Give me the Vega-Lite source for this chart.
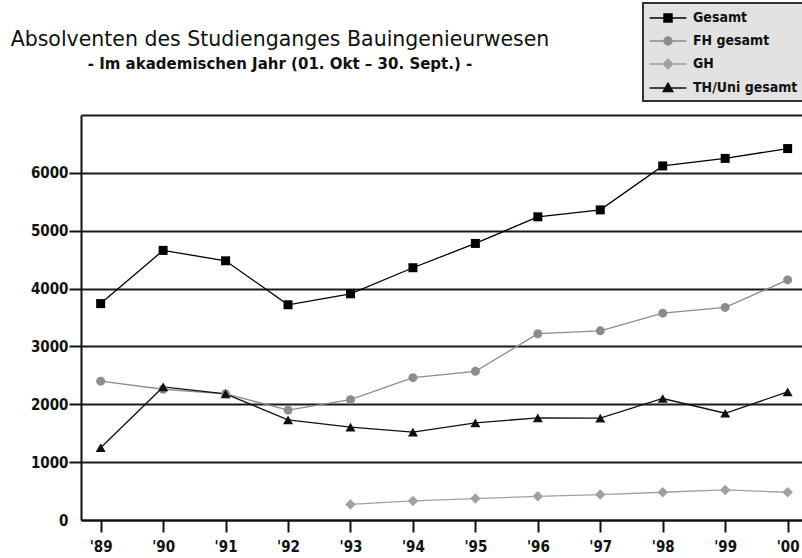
{
  "$schema": "https://vega.github.io/schema/vega-lite/v6.json",
  "width": 721,
  "height": 405,
  "autosize": {"type": "none"},
  "padding": {"left": 81, "top": 115, "right": 0, "bottom": 38},
  "background": "white",
  "title": {
    "text": "Absolventen des Studienganges Bauingenieurwesen",
    "subtitle": "- Im akademischen Jahr (01. Okt – 30. Sept.) -",
    "anchor": "start",
    "frame": "group",
    "align": "center",
    "dx": 199,
    "dy": 70,
    "offset": 0,
    "font": "DejaVu Sans",
    "fontSize": 20.5,
    "fontWeight": "normal",
    "color": "#111",
    "subtitleFont": "DejaVu Sans",
    "subtitleFontSize": 15,
    "subtitleFontWeight": "bold",
    "subtitleColor": "#111",
    "subtitlePadding": 7
  },
  "config": {
    "view": {"stroke": null},
    "axis": {
      "labelFont": "DejaVu Sans Condensed, Liberation Sans Narrow, DejaVu Sans",
      "labelFontWeight": "bold",
      "labelColor": "#111",
      "domainColor": "#111",
      "domainWidth": 2,
      "tickColor": "#111",
      "tickWidth": 2,
      "tickSize": 12,
      "title": null
    },
    "legend": {
      "labelFont": "DejaVu Sans Condensed, Liberation Sans Narrow, DejaVu Sans",
      "labelFontWeight": "bold",
      "strokeWidth": 2
    }
  },
  "data": {
    "values": [
      {"jahr": 1989, "serie": "Gesamt", "wert": 3740},
      {"jahr": 1990, "serie": "Gesamt", "wert": 4660},
      {"jahr": 1991, "serie": "Gesamt", "wert": 4480},
      {"jahr": 1992, "serie": "Gesamt", "wert": 3720},
      {"jahr": 1993, "serie": "Gesamt", "wert": 3910},
      {"jahr": 1994, "serie": "Gesamt", "wert": 4360},
      {"jahr": 1995, "serie": "Gesamt", "wert": 4780},
      {"jahr": 1996, "serie": "Gesamt", "wert": 5240},
      {"jahr": 1997, "serie": "Gesamt", "wert": 5360},
      {"jahr": 1998, "serie": "Gesamt", "wert": 6120},
      {"jahr": 1999, "serie": "Gesamt", "wert": 6250},
      {"jahr": 2000, "serie": "Gesamt", "wert": 6420},
      {"jahr": 1989, "serie": "FH gesamt", "wert": 2400},
      {"jahr": 1990, "serie": "FH gesamt", "wert": 2260},
      {"jahr": 1991, "serie": "FH gesamt", "wert": 2180},
      {"jahr": 1992, "serie": "FH gesamt", "wert": 1900},
      {"jahr": 1993, "serie": "FH gesamt", "wert": 2080},
      {"jahr": 1994, "serie": "FH gesamt", "wert": 2460},
      {"jahr": 1995, "serie": "FH gesamt", "wert": 2570},
      {"jahr": 1996, "serie": "FH gesamt", "wert": 3220},
      {"jahr": 1997, "serie": "FH gesamt", "wert": 3270},
      {"jahr": 1998, "serie": "FH gesamt", "wert": 3575},
      {"jahr": 1999, "serie": "FH gesamt", "wert": 3675},
      {"jahr": 2000, "serie": "FH gesamt", "wert": 4150},
      {"jahr": 1993, "serie": "GH", "wert": 270},
      {"jahr": 1994, "serie": "GH", "wert": 330},
      {"jahr": 1995, "serie": "GH", "wert": 370},
      {"jahr": 1996, "serie": "GH", "wert": 410},
      {"jahr": 1997, "serie": "GH", "wert": 440},
      {"jahr": 1998, "serie": "GH", "wert": 480},
      {"jahr": 1999, "serie": "GH", "wert": 520},
      {"jahr": 2000, "serie": "GH", "wert": 480},
      {"jahr": 1989, "serie": "TH/Uni gesamt", "wert": 1250},
      {"jahr": 1990, "serie": "TH/Uni gesamt", "wert": 2300},
      {"jahr": 1991, "serie": "TH/Uni gesamt", "wert": 2180},
      {"jahr": 1992, "serie": "TH/Uni gesamt", "wert": 1730},
      {"jahr": 1993, "serie": "TH/Uni gesamt", "wert": 1605},
      {"jahr": 1994, "serie": "TH/Uni gesamt", "wert": 1520},
      {"jahr": 1995, "serie": "TH/Uni gesamt", "wert": 1680},
      {"jahr": 1996, "serie": "TH/Uni gesamt", "wert": 1765},
      {"jahr": 1997, "serie": "TH/Uni gesamt", "wert": 1760},
      {"jahr": 1998, "serie": "TH/Uni gesamt", "wert": 2100},
      {"jahr": 1999, "serie": "TH/Uni gesamt", "wert": 1845},
      {"jahr": 2000, "serie": "TH/Uni gesamt", "wert": 2215}
    ]
  },
  "encoding": {
    "x": {
      "field": "jahr",
      "type": "quantitative",
      "scale": {"domain": [1988.685, 2000.23], "nice": false, "zero": false},
      "axis": {
        "values": [1989, 1990, 1991, 1992, 1993, 1994, 1995, 1996, 1997, 1998, 1999, 2000],
        "labelExpr": "\"'\" + substring(toString(datum.value), 2, 4)",
        "labelFontSize": 15,
        "labelPadding": 7,
        "grid": false,
        "labelFlush": false,
        "labelOverlap": false
      }
    },
    "y": {
      "field": "wert",
      "type": "quantitative",
      "scale": {"domain": [0, 7000], "nice": false},
      "axis": {
        "values": [0, 1000, 2000, 3000, 4000, 5000, 6000, 7000],
        "labelExpr": "datum.value == 7000 ? '' : toString(datum.value)",
        "labelFontSize": 15,
        "labelPadding": 1,
        "tickOpacity": {"condition": {"test": "datum.value == 7000 || datum.value == 0", "value": 0}, "value": 1},
        "grid": true,
        "gridColor": "#1a1a1a",
        "gridWidth": 2,
        "gridOpacity": 1,
        "labelFlush": false
      }
    },
    "color": {
      "field": "serie",
      "type": "nominal",
      "scale": {
        "domain": ["Gesamt", "FH gesamt", "GH", "TH/Uni gesamt"],
        "range": ["#000000", "#8c8c8c", "#a0a0a0", "#111111"]
      },
      "legend": {
        "orient": "none",
        "legendX": 562,
        "legendY": -112,
        "title": null,
        "padding": 6,
        "fillColor": "#e2e2e2",
        "strokeColor": "#333333",
        "symbolSize": 256,
        "symbolOffset": 10,
        "labelOffset": 16,
        "rowPadding": 7,
        "labelFontSize": 14,
        "labelColor": "#111",
        "symbolStrokeWidth": 1.5,
        "encode": {
          "symbols": {
            "update": {
              "shape": {"signal": "datum.value === 'Gesamt' ? 'M-2.3,0H2.3M-0.5,-0.5H0.5V0.5H-0.5Z' : datum.value === 'FH gesamt' ? 'M-2.3,0H2.3M-0.5,0A0.5,0.5,0,1,0,0.5,0A0.5,0.5,0,1,0,-0.5,0Z' : datum.value === 'GH' ? 'M-2.3,0H2.3M0,-0.6L0.6,0L0,0.6L-0.6,0Z' : 'M-2.3,0H2.3M0,-0.6L0.6,0.45L-0.6,0.45Z'"},
              "fill": {"signal": "scale('color', datum.value)"},
              "stroke": {"signal": "scale('color', datum.value)"},
              "opacity": {"value": 1}
            }
          }
        }
      }
    }
  },
  "layer": [
    {
      "mark": {"type": "line", "strokeWidth": 1.3}
    },
    {
      "transform": [{"filter": "datum.serie == 'Gesamt'"}],
      "mark": {"type": "point", "shape": "square", "filled": true, "opacity": 1, "size": 81}
    },
    {
      "transform": [{"filter": "datum.serie == 'FH gesamt'"}],
      "mark": {"type": "point", "shape": "circle", "filled": true, "opacity": 1, "size": 81}
    },
    {
      "transform": [{"filter": "datum.serie == 'GH'"}],
      "mark": {"type": "point", "shape": "diamond", "filled": true, "opacity": 1, "size": 110}
    },
    {
      "transform": [{"filter": "datum.serie == 'TH/Uni gesamt'"}],
      "mark": {"type": "point", "shape": "triangle-up", "filled": true, "opacity": 1, "size": 100}
    }
  ]
}
